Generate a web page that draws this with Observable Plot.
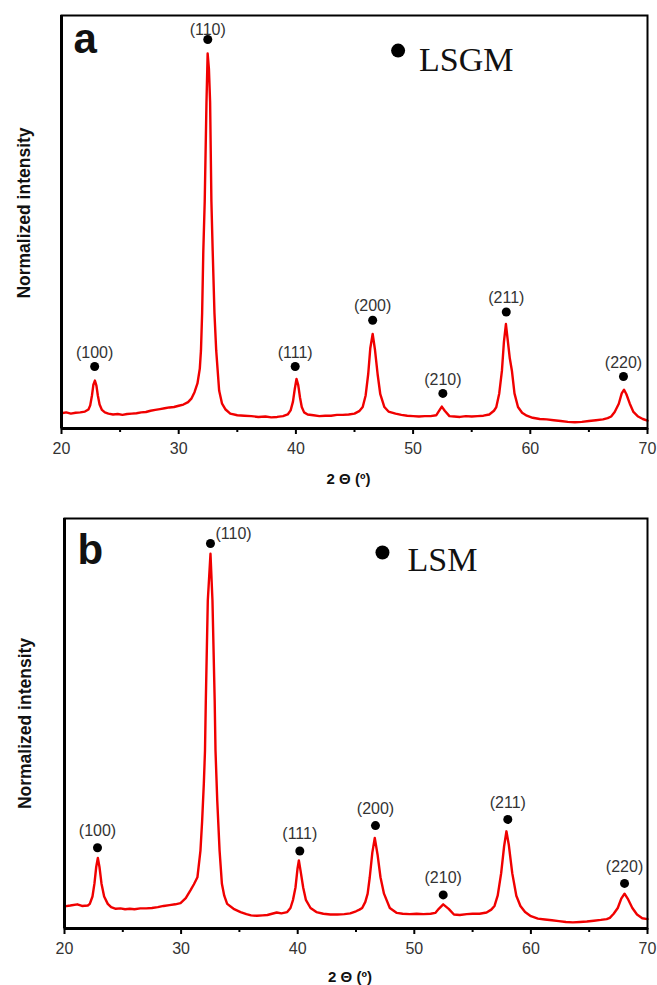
<!DOCTYPE html>
<html>
<head>
<meta charset="utf-8">
<script src="https://cdn.jsdelivr.net/npm/d3@7"></script>
<script src="https://cdn.jsdelivr.net/npm/@observablehq/plot@0.6"></script>
<style>
  html, body { margin: 0; padding: 0; background: #fff; }
  #chart svg { display: block; }
  #chart g[aria-label="hkl"] text { letter-spacing: 0.9px; }
</style>
</head>
<body>
<div id="chart"></div>
<script>
// ---------- data ----------
const xTicks = [20, 30, 40, 50, 60, 70];
const xMinorTicks = [25, 35, 45, 55, 65];
const hkl = ["(100)", "(110)", "(111)", "(200)", "(210)", "(211)", "(220)"];

// Panel a – LSGM
const twoThetaA = [20.0,20.4,20.8,21.2,21.6,22.0,22.3,22.45,22.6,22.72,22.85,22.98,23.1,23.25,23.45,23.7,24.0,24.4,24.8,25.2,25.6,26.0,26.4,26.8,27.2,27.6,28.0,28.4,28.8,29.2,29.6,30.0,30.4,30.8,31.1,31.35,31.6,31.8,31.9,32.0,32.1,32.22,32.37,32.47,32.58,32.68,32.79,32.9,33.05,33.2,33.45,33.7,34.0,34.4,35.0,35.6,36.2,36.8,37.4,37.9,38.4,38.9,39.3,39.55,39.75,39.9,40.05,40.2,40.35,40.5,40.7,41.0,41.5,42.0,42.5,43.0,43.5,44.0,44.5,45.0,45.4,45.7,45.95,46.17,46.35,46.55,46.75,46.97,47.2,47.55,47.9,48.5,49.0,49.5,50.0,50.5,51.0,51.5,51.97,52.2,52.45,52.7,53.1,53.5,54.0,54.5,55.0,55.5,56.0,56.5,56.9,57.1,57.35,57.58,57.75,57.92,58.05,58.25,58.43,58.65,58.95,59.3,59.7,60.2,60.8,61.4,62.0,62.6,63.2,63.8,64.4,65.0,65.6,66.2,66.6,66.9,67.2,67.55,67.8,68.0,68.2,68.49,68.8,69.2,69.6,70.0];
const intensityA = [3.7,3.9,3.6,3.8,3.9,4.1,4.6,5.6,8.0,10.6,11.6,10.4,8.0,5.8,4.5,3.9,3.6,3.4,3.5,3.3,3.5,3.6,3.7,3.9,4.0,4.3,4.5,4.7,4.9,5.1,5.2,5.5,5.8,6.4,7.3,8.8,10.9,14.5,18.9,28,43,55,79,90.8,87,79,55,43,28,18.9,9.2,6.0,4.6,3.6,3.2,3.1,3.0,2.8,2.9,2.7,2.8,3.0,3.4,4.4,6.5,9.5,12.0,10.5,7.5,5.2,3.9,3.4,3.2,3.0,3.1,3.1,3.3,3.3,3.4,3.6,4.2,5.2,8.0,13.2,19.5,22.9,19.0,13.2,8.3,5.2,4.1,3.6,3.3,3.1,3.0,2.9,3.0,3.0,3.2,4.2,5.3,4.3,3.0,2.9,2.8,3.0,2.9,3.0,3.1,3.4,4.3,5.2,8.5,14,21,25.3,22,17,14,8.5,5.2,3.8,3.1,2.6,2.3,2.2,2.0,1.8,1.6,1.5,1.6,1.8,2.0,2.2,2.5,2.9,4.0,6.0,8.5,9.4,8.3,6.0,4.0,2.9,2.3,1.9];
const peakThetaA = [22.83, 32.48, 39.94, 46.55, 52.54, 57.95, 67.95];
const peakMarkA = [15.0, 94.2, 15.0, 26.2, 8.5, 28.2, 12.6];
const legendA = {name: "LSGM", theta: 48.72, level: 91.5};

// Panel b – LSM
const twoThetaB = [20.0,20.5,21.1,21.5,22.0,22.17,22.4,22.57,22.72,22.86,23.0,23.17,23.4,23.71,24.0,24.4,24.8,25.2,25.6,26.0,26.5,27.0,27.5,28.0,28.5,29.0,29.5,29.95,30.4,30.8,31.1,31.4,31.66,31.8,31.95,32.05,32.12,32.29,32.52,32.69,32.88,32.95,33.1,33.3,33.5,33.7,33.95,34.5,35.1,35.6,36.0,36.5,37.0,37.4,37.8,38.2,38.6,39.1,39.38,39.6,39.81,39.98,40.1,40.25,40.47,40.7,41.1,41.6,42.2,42.8,43.4,44.0,44.5,45.0,45.3,45.53,45.8,46.0,46.18,46.4,46.61,46.85,47.1,47.4,47.9,48.5,49.0,49.6,50.2,50.8,51.4,51.8,52.1,52.48,52.95,53.4,53.9,54.5,55.0,55.6,56.2,56.6,56.88,57.15,57.45,57.7,57.9,58.1,58.4,58.75,59.1,59.5,60.0,60.6,61.2,61.8,62.4,63.0,63.6,64.2,64.8,65.4,66.0,66.5,66.77,67.1,67.45,67.75,68.03,68.3,68.7,69.1,69.55,70.0];
const intensityB = [5.4,5.6,5.9,5.5,5.6,6.0,7.8,11,15,17.2,15.0,11,7.8,6.0,5.2,4.8,4.9,4.7,4.8,4.7,4.9,4.9,5.0,5.2,5.5,5.7,5.9,6.2,7.4,9.3,10.8,12.5,19,26,35.4,43.4,55.6,80,91.4,80,55.6,43.4,31.2,19,10.9,8.0,6.0,4.8,4.0,3.5,3.2,3.1,3.2,3.3,3.6,3.9,3.7,4.0,5.0,7.0,10,14.5,16.6,14.0,10,7.0,5.0,4.0,3.6,3.4,3.4,3.5,3.7,4.2,4.6,5.0,6.5,8.5,12.5,18.5,22.1,18.0,12.5,8.5,5.0,3.8,3.6,3.5,3.6,3.5,3.6,3.8,4.8,5.9,4.8,3.4,3.3,3.5,3.6,3.6,3.9,4.6,5.5,8.0,13.5,20.0,23.7,20.5,13.5,8.0,5.5,4.0,3.0,2.4,2.2,2.0,1.8,1.6,1.5,1.6,1.7,1.9,2.1,2.3,2.6,3.6,5.0,7.3,8.5,7.3,5.0,3.4,2.5,2.3];
const peakThetaB = [22.83, 32.52, 40.18, 46.67, 52.48, 58.02, 68.03];
const peakMarkB = [19.7, 93.9, 18.9, 25.1, 8.2, 26.6, 11.0];
const legendB = {name: "LSM", theta: 47.27, level: 91.7};

// ---------- drawing ----------
const sans = "Liberation Sans, Arial, Helvetica, sans-serif";
const serif = "Liberation Serif, Times New Roman, serif";

function panel({letter, theta, inten, pTheta, pMark, legend, height, marginTop, marginBottom, marginLeft,
                letterDx, letterDy, ylabDx, ylabDy, xlabDy, labDy, legDx, legDy, strongLabelRight}) {
  const curve = theta.map((t, i) => ({t, v: inten[i]}));
  const peaks = hkl.map((h, i) => ({h, t: pTheta[i], v: pMark[i]}));
  const normal = peaks.filter(d => d.h !== "(110)");
  const strong = peaks.filter(d => d.h === "(110)");
  return Plot.plot({
    width: 657,
    height,
    marginTop,
    marginBottom,
    marginLeft,
    marginRight: 10,
    style: {fontFamily: sans, background: "#fff"},
    x: {domain: [20, 70]},
    y: {domain: [0, 100], axis: null},
    marks: [
      Plot.line(curve, {x: "t", y: "v", stroke: "#f00000", strokeWidth: 2.4, strokeLinejoin: "round"}),
      Plot.frame({stroke: "#000", strokeWidth: 2}),
      Plot.ruleX([20], {stroke: "#000", strokeWidth: 3}),
      Plot.ruleY([0], {stroke: "#000", strokeWidth: 3}),
      Plot.axisX({ticks: xTicks, tickSize: 6, tickPadding: 8, strokeWidth: 2, fontSize: 16, fill: "#333", label: null}),
      Plot.axisX({ticks: xMinorTicks, tickSize: 4, strokeWidth: 2, text: null, label: null}),
      Plot.text(["2 Θ (º)"], {frameAnchor: "bottom", lineAnchor: "bottom", dx: -6, dy: xlabDy, fontSize: 15, fontWeight: "bold", fill: "#111"}),
      Plot.text(["Normalized intensity"], {frameAnchor: "left", textAnchor: "middle", rotate: -90, dx: ylabDx, dy: ylabDy, fontSize: 17.5, fontWeight: "bold", fill: "#111"}),
      Plot.text([letter], {frameAnchor: "top-left", textAnchor: "start", lineAnchor: "bottom", dx: letterDx, dy: letterDy, fontSize: 42, fontWeight: "bold", fill: "#111"}),
      Plot.dot(peaks, {x: "t", y: "v", r: 4.5, fill: "#000", stroke: null}),
      Plot.text(normal, {x: "t", y: "v", text: "h", dy: labDy, fontSize: 16, fill: "#333", ariaLabel: "hkl"}),
      strongLabelRight
        ? Plot.text(strong, {x: "t", y: "v", text: "h", textAnchor: "start", dx: 5, dy: -10, fontSize: 16, fill: "#333", ariaLabel: "hkl"})
        : Plot.text(strong, {x: "t", y: "v", text: "h", dy: -10, fontSize: 16, fill: "#333", ariaLabel: "hkl"}),
      Plot.dot([legend], {x: "theta", y: "level", r: 7, fill: "#000", stroke: null}),
      Plot.text([legend], {x: "theta", y: "level", text: "name", textAnchor: "start", lineAnchor: "bottom", dx: legDx, dy: legDy, fontSize: 34, fontFamily: serif, fill: "#111"})
    ]
  });
}

const chart = document.getElementById("chart");
chart.append(panel({
  letter: "a", theta: twoThetaA, inten: intensityA, pTheta: peakThetaA, pMark: peakMarkA, legend: legendA,
  height: 490, marginTop: 15, marginBottom: 62, marginLeft: 61,
  letterDx: 12, letterDy: 37, ylabDx: -37.5, ylabDy: -9, xlabDy: 55, labDy: -14, legDx: 21, legDy: 20,
  strongLabelRight: false
}));
chart.append(panel({
  letter: "b", theta: twoThetaB, inten: intensityB, pTheta: peakThetaB, pMark: peakMarkB, legend: legendB,
  height: 495, marginTop: 28, marginBottom: 57, marginLeft: 64,
  letterDx: 13, letterDy: 45, ylabDx: -39.5, ylabDy: 0, xlabDy: 53, labDy: -17, legDx: 25, legDy: 18,
  strongLabelRight: true
}));
</script>
</body>
</html>
